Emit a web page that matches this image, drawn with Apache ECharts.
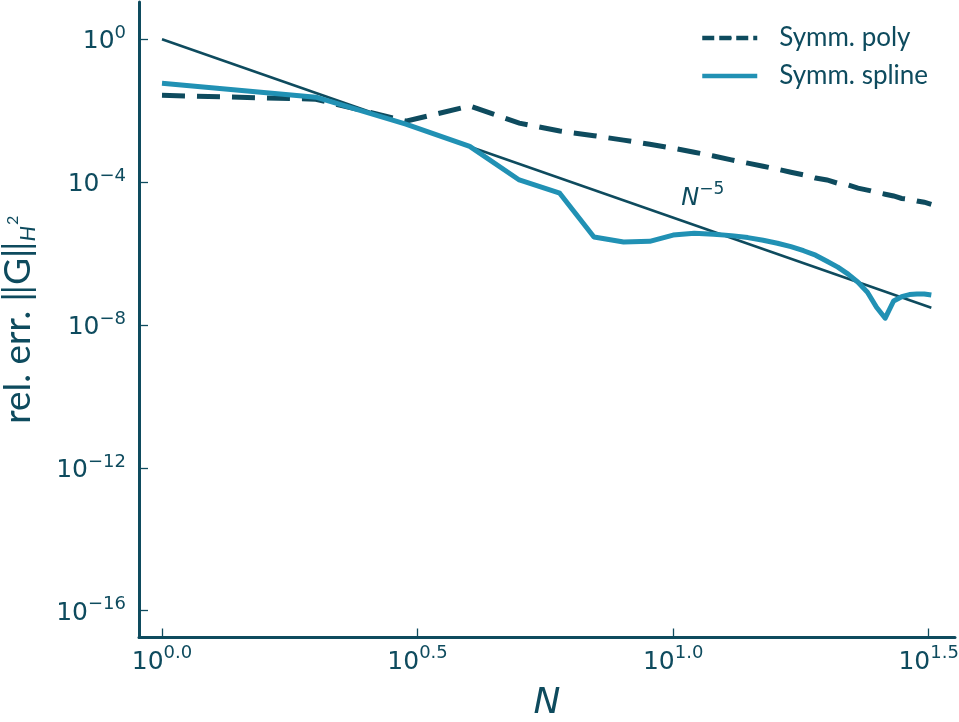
<!DOCTYPE html>
<html>
<head>
<meta charset="utf-8">
<title>Relative H2 error vs N</title>
<script src="https://cdn.jsdelivr.net/npm/echarts@6/dist/echarts.min.js"></script>
<style>
  html, body { margin: 0; padding: 0; background: #ffffff; }
  #chart { width: 959px; height: 722px; }
</style>
</head>
<body>
<div id="chart"></div>
<script>
// Number of basis functions N
const nValues = [1, 2, 3, 4, 5, 6, 7, 8, 9, 10, 11, 12, 13, 14, 15, 16,
                 17, 18, 19, 20, 21, 22, 23, 24, 25, 26, 27, 28, 29, 30, 31, 32];

// Relative error ||G||_{H^2}, symmetric polynomial basis
const polyErr = [2.7e-2, 2.1e-2, 5.1e-3, 1.35e-2, 4.5e-3, 2.7e-3, 2.0e-3, 1.5e-3,
                 1.15e-3, 8.9e-4, 6.9e-4, 5.4e-4, 4.2e-4, 3.4e-4, 2.8e-4, 2.3e-4,
                 1.9e-4, 1.6e-4, 1.3e-4, 1.15e-4, 9.3e-5, 8.3e-5, 6.8e-5, 6.0e-5,
                 5.2e-5, 4.6e-5, 4.1e-5, 3.5e-5, 3.3e-5, 2.95e-5, 2.75e-5, 2.4e-5];

// Relative error ||G||_{H^2}, symmetric spline basis
const splineErr = [5.9e-2, 2.4e-2, 4.2e-3, 1.0e-3, 1.15e-4, 4.9e-5, 2.9e-6, 2.1e-6,
                   2.2e-6, 3.3e-6, 3.7e-6, 3.5e-6, 3.18e-6, 2.8e-6, 2.37e-6, 1.95e-6,
                   1.56e-6, 1.2e-6, 9.0e-7, 6.1e-7, 4.16e-7, 2.65e-7, 1.58e-7, 8.3e-8,
                   3.15e-8, 1.55e-8, 4.7e-8, 6.2e-8, 7.1e-8, 7.4e-8, 7.4e-8, 6.9e-8];

// Reference slope N^-5 (end points)
const refN = [1, 32];
const refErr = [1, 3.05e-8];

// Tick positions (decimal exponents)
const xTickExp = [0, 0.5, 1.0, 1.5];
const yTickExp = [0, -4, -8, -12, -16];

// Where the N^-5 annotation sits (N, error)
const slopeLabelAt = [11.43, 4.1e-5];

const dark = '#0e4b5e';
const blue = '#2191b4';

const toLog = (xs, ys) => xs.map((x, i) => [Math.log10(x), Math.log10(ys[i])]);

const tickRich = {
  b: { fontFamily: 'DejaVu Sans', fontSize: 25, color: dark, lineHeight: 30, verticalAlign: 'bottom' },
  s: { fontFamily: 'DejaVu Sans', fontSize: 18, color: dark, lineHeight: 18, verticalAlign: 'top' }
};

const chart = echarts.init(document.getElementById('chart'), null, { renderer: 'canvas' });

chart.setOption({
  animation: false,
  backgroundColor: '#ffffff',
  grid: {
    left: 139, right: 4, top: 2, bottom: 84.5,
    containLabel: false,
    outerBoundsMode: 'none'
  },
  legend: {
    left: 700,
    top: 25,
    padding: 0,
    orient: 'vertical',
    itemWidth: 55,
    itemHeight: 5,
    itemGap: 12,
    textStyle: {
      fontFamily: 'Lato',
      fontSize: 26,
      lineHeight: 26,
      color: dark,
      padding: [0, 0, 0, 17]
    },
    data: [
      { name: 'Symm. poly', lineStyle: { type: [12, 5], width: 4.5, color: dark } },
      { name: 'Symm. spline', lineStyle: { width: 4.5, color: blue } }
    ]
  },
  xAxis: {
    type: 'value',
    min: -0.045,
    max: 1.5515,
    name: 'N',
    nameLocation: 'middle',
    nameGap: 48,
    nameTextStyle: { fontFamily: 'DejaVu Sans', fontStyle: 'italic', fontSize: 36, color: dark },
    splitLine: { show: false },
    axisLine: { show: true, onZero: false, lineStyle: { color: dark, width: 3 } },
    axisTick: { show: true, inside: true, length: 9, customValues: xTickExp, lineStyle: { color: dark, width: 1.3 } },
    axisLabel: {
      show: true,
      margin: 7,
      customValues: xTickExp,
      formatter: v => '{b|10}{s|' + v.toFixed(1) + '}',
      rich: tickRich
    }
  },
  yAxis: {
    type: 'value',
    min: -16.75,
    max: 1.044,
    name: '{a|rel. err. ‖G‖}{h|H}{t|2}',
    nameLocation: 'middle',
    nameRotate: 90,
    nameGap: 98,
    nameTextStyle: {
      rich: {
        a: { fontFamily: 'Lato', fontSize: 37, color: dark, lineHeight: 46 },
        h: { fontFamily: 'Lato', fontStyle: 'italic', fontSize: 22, color: dark, lineHeight: 22, verticalAlign: 'bottom', padding: [0, 0, 2, 0] },
        t: { fontFamily: 'Lato', fontSize: 16, color: dark, lineHeight: 16, verticalAlign: 'top', padding: [10, 0, 0, 1] }
      }
    },
    splitLine: { show: false },
    axisLine: { show: true, onZero: false, lineStyle: { color: dark, width: 3 } },
    axisTick: { show: true, inside: true, length: 9, customValues: yTickExp, lineStyle: { color: dark, width: 1.3 } },
    axisLabel: {
      show: true,
      margin: 13,
      customValues: yTickExp,
      formatter: v => '{b|10}{s|' + (v === 0 ? '0' : '−' + Math.abs(v)) + '}',
      rich: tickRich
    }
  },
  series: [
    {
      name: 'Symm. poly',
      type: 'line',
      data: toLog(nValues, polyErr),
      showSymbol: false,
      symbol: 'none',
      z: 2,
      lineStyle: { color: dark, width: 5, type: [23, 12], cap: 'butt', join: 'miter' },
      itemStyle: { color: dark }
    },
    {
      name: 'N^-5',
      type: 'line',
      data: toLog(refN, refErr),
      showSymbol: false,
      symbol: 'none',
      z: 3,
      lineStyle: { color: dark, width: 2.5 },
      itemStyle: { color: dark },
      silent: true
    },
    {
      name: 'Symm. spline',
      type: 'line',
      data: toLog(nValues, splineErr),
      showSymbol: false,
      symbol: 'none',
      z: 4,
      lineStyle: { color: blue, width: 5, join: 'round' },
      itemStyle: { color: blue }
    },
    {
      name: 'slope label',
      type: 'scatter',
      data: [toLog([slopeLabelAt[0]], [slopeLabelAt[1]])[0]],
      symbolSize: 0.1,
      itemStyle: { color: dark, opacity: 1 },
      silent: true,
      z: 5,
      label: {
        show: true,
        position: 'inside',
        color: dark,
        opacity: 1,
        textBorderWidth: 0,
        formatter: '{n|N}{e|−5}',
        rich: {
          n: { fontFamily: 'DejaVu Sans', fontStyle: 'italic', fontSize: 24, color: dark, lineHeight: 30, verticalAlign: 'bottom' },
          e: { fontFamily: 'DejaVu Sans', fontSize: 17, color: dark, lineHeight: 17, verticalAlign: 'top' }
        }
      }
    }
  ]
});
</script>
</body>
</html>
